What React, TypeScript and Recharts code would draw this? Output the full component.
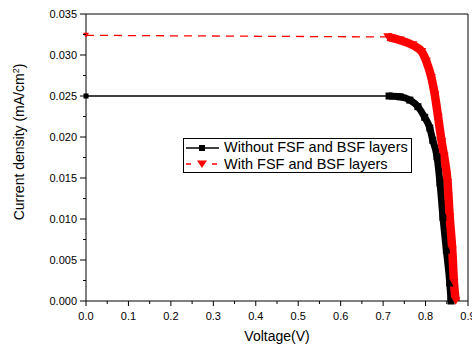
import { LineChart, Line, XAxis, YAxis, ReferenceLine, Legend } from 'recharts';

// J-V curves (V in volts, J in mA/cm2)
const blackVoltage = [0, 0.714, 0.74, 0.763, 0.782, 0.798, 0.81, 0.817, 0.827, 0.834, 0.841, 0.849, 0.857, 0.86];
const blackCurrent = [0.025, 0.025, 0.0249, 0.0245, 0.0237, 0.0224, 0.0211, 0.0196, 0.0176, 0.0144, 0.0102, 0.0062, 0.0022, 0.0];
const redVoltage = [0, 0.711, 0.74, 0.77, 0.791, 0.802, 0.814, 0.822, 0.83, 0.838, 0.844, 0.852, 0.857, 0.863, 0.867, 0.871];
const redCurrent = [0.0324, 0.0322, 0.0318, 0.0312, 0.0304, 0.0292, 0.0272, 0.0251, 0.0223, 0.0194, 0.0176, 0.0144, 0.0102, 0.0062, 0.0022, 0.0];

const seriesNames = ['Without FSF and BSF layers', 'With FSF and BSF layers'];

const xMajorTicks = [0, 0.1, 0.2, 0.3, 0.4, 0.5, 0.6, 0.7, 0.8, 0.9];
const xMinorTicks = [0.05, 0.15, 0.25, 0.35, 0.45, 0.55, 0.65, 0.75, 0.85];
const yMajorTicks = [0, 0.005, 0.01, 0.015, 0.02, 0.025, 0.03, 0.035];
const yMinorTicks = [0.0025, 0.0075, 0.0125, 0.0175, 0.0225, 0.0275, 0.0325];

const FONT = '"Liberation Sans", Arial, sans-serif';

const zip = (v: number[], j: number[]) => v.map((x, i) => ({ v: x, j: j[i] }));
const blackData = zip(blackVoltage, blackCurrent);
const redData = zip(redVoltage, redCurrent);

const isMajor = (list: number[], value: number) => list.some((t) => Math.abs(t - value) < 1e-9);

function XTick({ x, y, payload }: any) {
  if (!isMajor(xMajorTicks, payload.value)) {
    return <line x1={x} x2={x} y1={y} y2={y + 3} stroke="#000" />;
  }
  return (
    <g>
      <line x1={x} x2={x} y1={y} y2={y + 5} stroke="#000" />
      <text x={x} y={y + 19} textAnchor="middle" fontSize={11} fontFamily={FONT} fill="#000">
        {payload.value.toFixed(1)}
      </text>
    </g>
  );
}

function YTick({ x, y, payload }: any) {
  if (!isMajor(yMajorTicks, payload.value)) {
    return <line x1={x} x2={x - 3} y1={y} y2={y} stroke="#000" />;
  }
  return (
    <g>
      <line x1={x} x2={x - 6} y1={y} y2={y} stroke="#000" />
      <text x={x - 9} y={y + 4} textAnchor="end" fontSize={11} fontFamily={FONT} fill="#000">
        {payload.value.toFixed(3)}
      </text>
    </g>
  );
}

const squareDot = (size: number) => (props: any) => {
  const { cx, cy, key } = props;
  return <rect key={key} x={cx - size / 2} y={cy - size / 2} width={size} height={size} fill="#000" />;
};

const triangleDot = (size: number) => (props: any) => {
  const { cx, cy, key } = props;
  const h = size * 0.85;
  return (
    <path
      key={key}
      d={`M${cx - size / 2},${cy - h / 2}L${cx + size / 2},${cy - h / 2}L${cx},${cy + h / 2}Z`}
      fill="#ff0000"
    />
  );
};

function LegendBox() {
  return (
    <div
      style={{
        border: '1px solid #000',
        background: '#fff',
        width: 227,
        height: 33,
        fontFamily: FONT,
        fontSize: 14.5,
        color: '#000',
        boxSizing: 'content-box',
      }}
    >
      <div style={{ display: 'flex', alignItems: 'center', height: 17 }}>
        <svg width={40} height={17}>
          <line x1={2} x2={35} y1={9} y2={9} stroke="#000" strokeWidth={1.5} />
          <rect x={15} y={6} width={6} height={6} fill="#000" />
        </svg>
        <span style={{ lineHeight: '17px' }}>{seriesNames[0]}</span>
      </div>
      <div style={{ display: 'flex', alignItems: 'center', height: 17 }}>
        <svg width={40} height={17}>
          <line x1={2} x2={7} y1={8} y2={8} stroke="#ff0000" strokeWidth={1.5} />
          <line x1={28} x2={33} y1={8} y2={8} stroke="#ff0000" strokeWidth={1.5} />
          <path d="M13,4.5L23,4.5L18,12Z" fill="#ff0000" />
        </svg>
        <span style={{ lineHeight: '17px' }}>{seriesNames[1]}</span>
      </div>
    </div>
  );
}

export default function App() {
  return (
    <div style={{ position: 'absolute', left: 0, top: 0, width: 472, height: 347, overflow: 'hidden', background: '#fff' }}>
      <LineChart width={472} height={347} margin={{ top: 14, right: 4, bottom: 0, left: 0 }}>
        <XAxis
          type="number"
          dataKey="v"
          domain={[0, 0.9]}
          ticks={[...xMajorTicks, ...xMinorTicks].sort((a, b) => a - b)}
          interval={0}
          height={46}
          tickSize={0}
          tickMargin={0}
          tickLine={false}
          axisLine={{ stroke: '#000' }}
          tick={<XTick />}
          label={(props: any) => {
            const vb = props.viewBox;
            return (
              <text x={vb.x + vb.width / 2} y={vb.y + 40} textAnchor="middle" fontSize={14} fontFamily={FONT} fill="#000">
                Voltage(V)
              </text>
            );
          }}
        />
        <YAxis
          type="number"
          dataKey="j"
          domain={[0, 0.035]}
          ticks={[...yMajorTicks, ...yMinorTicks].sort((a, b) => a - b)}
          interval={0}
          width={86}
          tickSize={0}
          tickMargin={0}
          tickLine={false}
          axisLine={{ stroke: '#000' }}
          tick={<YTick />}
          label={(props: any) => {
            const vb = props.viewBox;
            const cx = vb.x + 24;
            const cy = vb.y + 128;
            return (
              <text
                x={cx}
                y={cy}
                transform={`rotate(-90, ${cx}, ${cy})`}
                textAnchor="middle"
                fontSize={14}
                fontFamily={FONT}
                fill="#000"
              >
                Current density  (mA/cm
                <tspan dy={-5} fontSize={9}>2</tspan>
                <tspan dy={5}>)</tspan>
              </text>
            );
          }}
        />
        <ReferenceLine y={0.035} stroke="#000" />
        <ReferenceLine x={0.9} stroke="#000" />

        {/* flat parts: thin lines */}
        <Line
          data={blackData.slice(0, 2)}
          dataKey="j"
          name={seriesNames[0]}
          stroke="#000"
          strokeWidth={1.3}
          dot={squareDot(5)}
          isAnimationActive={false}
        />
        {/* dense-marker knee drawn as a thick band */}
        <Line
          data={blackData.slice(1)}
          dataKey="j"
          type="monotone"
          stroke="#000"
          strokeWidth={7}
          strokeLinejoin="round"
          dot={squareDot(7)}
          legendType="none"
          isAnimationActive={false}
        />
        <Line
          data={redData.slice(0, 2)}
          dataKey="j"
          name={seriesNames[1]}
          stroke="#ff0000"
          strokeWidth={1.3}
          strokeDasharray="8 6"
          dot={triangleDot(6)}
          isAnimationActive={false}
        />
        <Line
          data={redData.slice(1)}
          dataKey="j"
          type="monotone"
          stroke="#ff0000"
          strokeWidth={8.5}
          strokeLinejoin="round"
          dot={triangleDot(9)}
          legendType="none"
          isAnimationActive={false}
        />

        <Legend
          layout="vertical"
          align="center"
          verticalAlign="middle"
          content={() => <LegendBox />}
          wrapperStyle={{ left: 183, top: 138, width: 229, height: 35 }}
        />
      </LineChart>
    </div>
  );
}
